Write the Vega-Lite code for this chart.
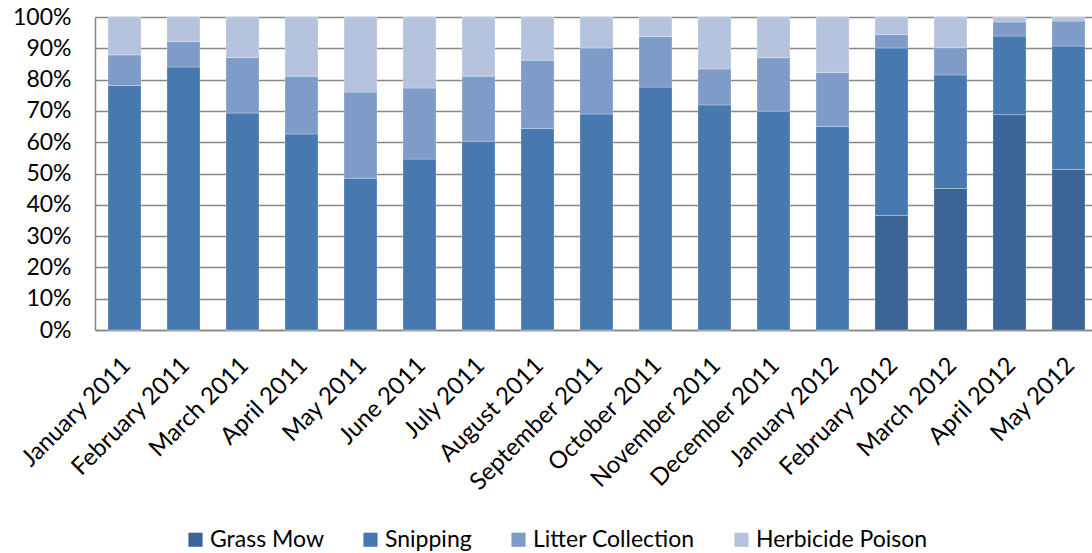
{
  "$schema": "https://vega.github.io/schema/vega-lite/v6.json",
  "width": 1003,
  "height": 313,
  "autosize": {"type": "none"},
  "padding": {"left": 95, "top": 17, "right": 0, "bottom": 223},
  "background": "white",
  "config": {
    "font": "Lato",
    "view": {"stroke": null},
    "axis": {"labelFont": "Lato", "labelColor": "#000000"},
    "legend": {"labelFont": "Lato"}
  },
  "data": {
    "values": [
      {"month": "January 2011", "task": "Grass Mow", "pct": 0},
      {"month": "January 2011", "task": "Snipping", "pct": 78.1},
      {"month": "January 2011", "task": "Litter Collection", "pct": 9.8},
      {"month": "January 2011", "task": "Herbicide Poison", "pct": 12.1},
      {"month": "February 2011", "task": "Grass Mow", "pct": 0},
      {"month": "February 2011", "task": "Snipping", "pct": 84.0},
      {"month": "February 2011", "task": "Litter Collection", "pct": 8.2},
      {"month": "February 2011", "task": "Herbicide Poison", "pct": 7.8},
      {"month": "March 2011", "task": "Grass Mow", "pct": 0},
      {"month": "March 2011", "task": "Snipping", "pct": 69.3},
      {"month": "March 2011", "task": "Litter Collection", "pct": 17.8},
      {"month": "March 2011", "task": "Herbicide Poison", "pct": 12.9},
      {"month": "April 2011", "task": "Grass Mow", "pct": 0},
      {"month": "April 2011", "task": "Snipping", "pct": 62.6},
      {"month": "April 2011", "task": "Litter Collection", "pct": 18.5},
      {"month": "April 2011", "task": "Herbicide Poison", "pct": 18.9},
      {"month": "May 2011", "task": "Grass Mow", "pct": 0},
      {"month": "May 2011", "task": "Snipping", "pct": 48.5},
      {"month": "May 2011", "task": "Litter Collection", "pct": 27.5},
      {"month": "May 2011", "task": "Herbicide Poison", "pct": 24.0},
      {"month": "June 2011", "task": "Grass Mow", "pct": 0},
      {"month": "June 2011", "task": "Snipping", "pct": 54.6},
      {"month": "June 2011", "task": "Litter Collection", "pct": 22.7},
      {"month": "June 2011", "task": "Herbicide Poison", "pct": 22.7},
      {"month": "July 2011", "task": "Grass Mow", "pct": 0},
      {"month": "July 2011", "task": "Snipping", "pct": 60.3},
      {"month": "July 2011", "task": "Litter Collection", "pct": 20.8},
      {"month": "July 2011", "task": "Herbicide Poison", "pct": 18.9},
      {"month": "August 2011", "task": "Grass Mow", "pct": 0},
      {"month": "August 2011", "task": "Snipping", "pct": 64.4},
      {"month": "August 2011", "task": "Litter Collection", "pct": 21.8},
      {"month": "August 2011", "task": "Herbicide Poison", "pct": 13.8},
      {"month": "September 2011", "task": "Grass Mow", "pct": 0},
      {"month": "September 2011", "task": "Snipping", "pct": 69.0},
      {"month": "September 2011", "task": "Litter Collection", "pct": 21.1},
      {"month": "September 2011", "task": "Herbicide Poison", "pct": 9.9},
      {"month": "October 2011", "task": "Grass Mow", "pct": 0},
      {"month": "October 2011", "task": "Snipping", "pct": 77.6},
      {"month": "October 2011", "task": "Litter Collection", "pct": 16.2},
      {"month": "October 2011", "task": "Herbicide Poison", "pct": 6.2},
      {"month": "November 2011", "task": "Grass Mow", "pct": 0},
      {"month": "November 2011", "task": "Snipping", "pct": 71.9},
      {"month": "November 2011", "task": "Litter Collection", "pct": 11.5},
      {"month": "November 2011", "task": "Herbicide Poison", "pct": 16.6},
      {"month": "December 2011", "task": "Grass Mow", "pct": 0},
      {"month": "December 2011", "task": "Snipping", "pct": 69.9},
      {"month": "December 2011", "task": "Litter Collection", "pct": 17.1},
      {"month": "December 2011", "task": "Herbicide Poison", "pct": 13.0},
      {"month": "January 2012", "task": "Grass Mow", "pct": 0},
      {"month": "January 2012", "task": "Snipping", "pct": 65.0},
      {"month": "January 2012", "task": "Litter Collection", "pct": 17.3},
      {"month": "January 2012", "task": "Herbicide Poison", "pct": 17.7},
      {"month": "February 2012", "task": "Grass Mow", "pct": 36.6},
      {"month": "February 2012", "task": "Snipping", "pct": 53.5},
      {"month": "February 2012", "task": "Litter Collection", "pct": 4.3},
      {"month": "February 2012", "task": "Herbicide Poison", "pct": 5.6},
      {"month": "March 2012", "task": "Grass Mow", "pct": 45.2},
      {"month": "March 2012", "task": "Snipping", "pct": 36.3},
      {"month": "March 2012", "task": "Litter Collection", "pct": 8.7},
      {"month": "March 2012", "task": "Herbicide Poison", "pct": 9.8},
      {"month": "April 2012", "task": "Grass Mow", "pct": 68.8},
      {"month": "April 2012", "task": "Snipping", "pct": 25.1},
      {"month": "April 2012", "task": "Litter Collection", "pct": 4.5},
      {"month": "April 2012", "task": "Herbicide Poison", "pct": 1.6},
      {"month": "May 2012", "task": "Grass Mow", "pct": 51.3},
      {"month": "May 2012", "task": "Snipping", "pct": 39.4},
      {"month": "May 2012", "task": "Litter Collection", "pct": 8.0},
      {"month": "May 2012", "task": "Herbicide Poison", "pct": 1.3}
    ]
  },
  "transform": [
    {"calculate": "indexof(['Grass Mow', 'Snipping', 'Litter Collection', 'Herbicide Poison'], datum.task)", "as": "stackOrder"}
  ],
  "mark": {"type": "bar", "stroke": "#ffffff", "strokeOpacity": 0.25, "strokeWidth": 1},
  "encoding": {
    "x": {
      "field": "month",
      "type": "nominal",
      "sort": null,
      "scale": {"paddingInner": 0.44, "paddingOuter": 0.22},
      "axis": {
        "title": null,
        "labelAngle": -45,
        "labelFontSize": 24,
        "labelLimit": 400,
        "ticks": false,
        "labelPadding": 23,
        "labelOffset": -6,
        "domainColor": "#868686",
        "domainWidth": 1.5
      }
    },
    "y": {
      "field": "pct",
      "type": "quantitative",
      "stack": "normalize",
      "scale": {"domain": [0, 1]},
      "axis": {
        "title": null,
        "format": "%",
        "values": [0, 0.1, 0.2, 0.3, 0.4, 0.5, 0.6, 0.7, 0.8, 0.9, 1],
        "labelFontSize": 23,
        "ticks": false,
        "labelPadding": 24,
        "grid": true,
        "gridColor": "#868686",
        "gridWidth": 1.3,
        "domainColor": "#868686",
        "domainWidth": 1.5
      }
    },
    "order": {"field": "stackOrder", "type": "quantitative", "sort": "ascending"},
    "color": {
      "field": "task",
      "type": "nominal",
      "sort": ["Grass Mow", "Snipping", "Litter Collection", "Herbicide Poison"],
      "scale": {
        "domain": ["Grass Mow", "Snipping", "Litter Collection", "Herbicide Poison"],
        "range": ["#3C6496", "#4878B0", "#7F9CC8", "#B5C3DE"]
      },
      "legend": {
        "title": null,
        "orient": "none",
        "direction": "horizontal",
        "legendX": 89,
        "legendY": 511,
        "symbolType": "square",
        "symbolSize": 200,
        "symbolStrokeWidth": 0,
        "labelFontSize": 23,
        "labelOffset": 3,
        "labelLimit": 400,
        "columnPadding": 35,
        "labelColor": "#000000"
      }
    }
  }
}
